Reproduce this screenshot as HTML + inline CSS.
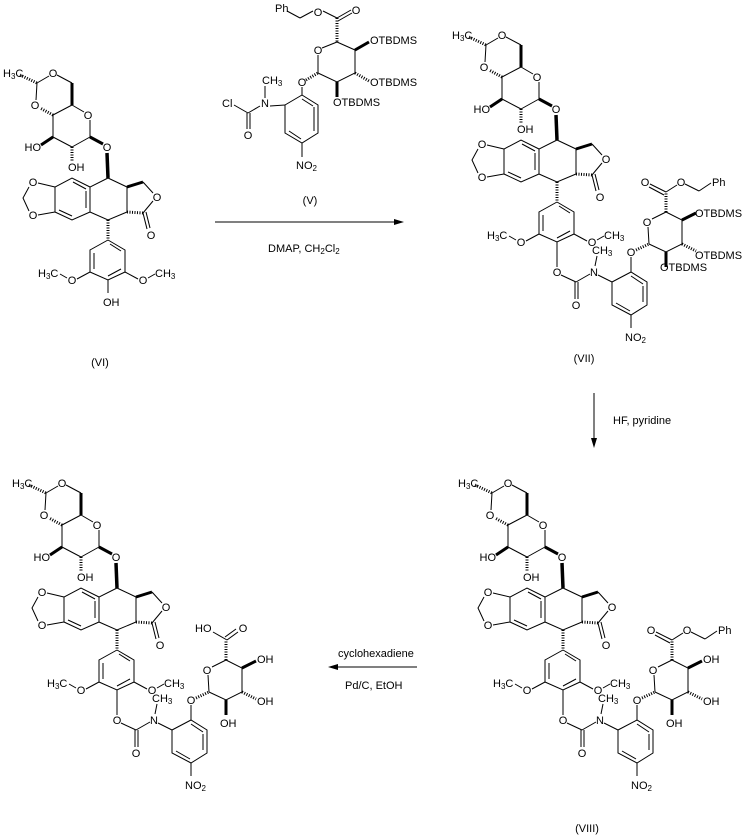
<!DOCTYPE html>
<html><head><meta charset="utf-8"><style>
html,body{margin:0;padding:0;background:#fff;}
svg{display:block;}
text{font-family:"Liberation Sans",Arial,sans-serif;font-size:11px;fill:#000;}
.s{font-size:8px;}
</style></head><body>
<svg width="744" height="835" viewBox="0 0 744 835" xmlns="http://www.w3.org/2000/svg">
<defs>
<g id="core" stroke="#000" stroke-width="1" fill="none">
 <line x1="20" y1="75" x2="37" y2="83" stroke-width="3" stroke-dasharray="1,1.5"/>
 <line x1="37" y1="83" x2="49" y2="76"/>
 <line x1="57" y1="75" x2="72" y2="83"/>
 <line x1="72" y1="83" x2="72" y2="105" stroke-width="3"/>
 <line x1="36" y1="100" x2="37" y2="83"/>
 <line x1="72" y1="105" x2="84" y2="112"/>
 <line x1="53" y1="115" x2="40" y2="108" stroke-width="3" stroke-dasharray="1,1.5"/>
 <line x1="72" y1="105" x2="53" y2="115"/>
 <line x1="53" y1="115" x2="53" y2="137"/>
 <line x1="53" y1="137" x2="72" y2="147"/>
 <line x1="72" y1="147" x2="90" y2="137"/>
 <line x1="90" y1="137" x2="90" y2="120"/>
 <line x1="90" y1="137" x2="103" y2="144" stroke-width="3"/>
 <line x1="53" y1="137" x2="41" y2="145" stroke-width="3"/>
 <line x1="72" y1="147" x2="72" y2="161" stroke-width="3" stroke-dasharray="1,1.5"/>
 <line x1="107" y1="153" x2="108" y2="178" stroke-width="3.5"/>
 <polyline points="108,178 127,187 127,212 108,220 90,212 90,187 108,178"/>
 <polyline points="90,187 72,178 55,187 55,212 72,220 90,212"/>
 <line x1="73" y1="182" x2="86" y2="189"/>
 <line x1="86" y1="191" x2="86" y2="208"/>
 <line x1="59" y1="210" x2="72" y2="216"/>
 <line x1="55" y1="187" x2="38" y2="183"/>
 <line x1="55" y1="212" x2="38" y2="215"/>
 <polyline points="29,187 23,198 29,211"/>
 <line x1="127" y1="187" x2="143" y2="182" stroke-width="3"/>
 <line x1="143" y1="182" x2="153" y2="193"/>
 <line x1="153" y1="201" x2="143" y2="213"/>
 <line x1="127" y1="212" x2="143" y2="213" stroke-width="3" stroke-dasharray="1,1.5"/>
 <line x1="143" y1="213" x2="147" y2="229"/>
 <line x1="146" y1="212" x2="150" y2="228"/>
 <line x1="108" y1="220" x2="108" y2="240" stroke-width="3" stroke-dasharray="1,1.5"/>
 <polyline points="108,240 125,250 125,272 108,280 90,272 90,250 108,240"/>
 <line x1="94" y1="253" x2="94" y2="269"/>
 <line x1="108" y1="276" x2="121" y2="269"/>
 <line x1="110" y1="244" x2="121" y2="251"/>
 <line x1="90" y1="272" x2="77" y2="279"/>
 <line x1="67" y1="278" x2="60" y2="274"/>
 <line x1="125" y1="272" x2="138" y2="279"/>
 <line x1="148" y1="278" x2="155" y2="274"/>
 <line x1="108" y1="280" x2="108" y2="293"/>
</g>
<g id="ext" stroke="#000" stroke-width="1" fill="none">
 <line x1="108" y1="293" x2="108" y2="305"/>
 <line x1="112" y1="313" x2="127" y2="320"/>
 <line x1="126" y1="320" x2="126" y2="337"/>
 <line x1="129" y1="320" x2="129" y2="337"/>
 <line x1="127" y1="320" x2="141" y2="312"/>
 <line x1="146" y1="304" x2="148" y2="294"/>
 <line x1="149" y1="313" x2="163" y2="320"/>
 <polyline points="163,320 182,310 198,320 198,343 182,353 163,343 163,320"/>
 <line x1="182" y1="314" x2="194" y2="322"/>
 <line x1="194" y1="324" x2="194" y2="340"/>
 <line x1="167" y1="341" x2="181" y2="349"/>
 <line x1="182" y1="310" x2="182" y2="295"/>
 <line x1="182" y1="353" x2="182" y2="366"/>
 <line x1="187" y1="288" x2="200" y2="282" stroke-width="3" stroke-dasharray="1,1.5"/>
 <line x1="200" y1="282" x2="199" y2="265"/>
 <line x1="203" y1="257" x2="217" y2="250"/>
 <polyline points="217,250 233,258 233,282 217,290 200,282"/>
 <line x1="233" y1="258" x2="247" y2="251" stroke-width="3"/>
 <line x1="233" y1="282" x2="247" y2="289" stroke-width="3" stroke-dasharray="1,1.5"/>
 <line x1="217" y1="290" x2="217" y2="305" stroke-width="3"/>
 <line x1="217" y1="250" x2="217" y2="231" stroke-width="3" stroke-dasharray="1,1.5"/>
</g>
<g id="ester" stroke="#000" stroke-width="1" fill="none">
 <line x1="217" y1="230" x2="201" y2="222"/>
 <line x1="215" y1="233" x2="200" y2="225"/>
 <line x1="217" y1="230" x2="228" y2="223"/>
 <line x1="236" y1="222" x2="250" y2="229"/>
 <line x1="250" y1="229" x2="262" y2="221"/>
</g>
</defs>

<!-- (VI) -->
<g>
 <use href="#core"/>
 <text x="3" y="77">H<tspan class="s" dy="2">3</tspan><tspan dy="-2">C</tspan></text>
 <text x="53" y="77" text-anchor="middle">O</text>
 <text x="35" y="109" text-anchor="middle">O</text>
 <text x="88" y="119" text-anchor="middle">O</text>
 <text x="41" y="151" text-anchor="end">HO</text>
 <text x="68" y="171">OH</text>
 <text x="107" y="151" text-anchor="middle">O</text>
 <text x="33" y="186" text-anchor="middle">O</text>
 <text x="33" y="219" text-anchor="middle">O</text>
 <text x="157" y="201" text-anchor="middle">O</text>
 <text x="151" y="239" text-anchor="middle">O</text>
 <text x="72" y="284" text-anchor="middle">O</text>
 <text x="38" y="277">H<tspan class="s" dy="2">3</tspan><tspan dy="-2">C</tspan></text>
 <text x="143" y="284" text-anchor="middle">O</text>
 <text x="155" y="277">CH<tspan class="s" dy="2">3</tspan></text>
 <text x="103" y="306">OH</text>
 <text x="100" y="366" text-anchor="middle">(VI)</text>
</g>

<!-- reagent (V) and arrow -->
<g stroke="#000" stroke-width="1" fill="none">
 <line x1="287" y1="11" x2="300" y2="18"/>
 <line x1="300" y1="18" x2="313" y2="11"/>
 <line x1="323" y1="11" x2="337" y2="18"/>
 <line x1="337" y1="18" x2="351" y2="10"/>
 <line x1="338" y1="21" x2="352" y2="13"/>
 <line x1="337" y1="18" x2="337" y2="42" stroke-width="3" stroke-dasharray="1,1.5"/>
 <line x1="337" y1="42" x2="322" y2="48"/>
 <polyline points="337,42 355,50 355,73 337,82 318,73"/>
 <line x1="318" y1="73" x2="318" y2="55"/>
 <line x1="355" y1="50" x2="369" y2="42" stroke-width="3"/>
 <line x1="355" y1="73" x2="369" y2="81" stroke-width="3" stroke-dasharray="1,1.5"/>
 <line x1="337" y1="82" x2="337" y2="97" stroke-width="3"/>
 <line x1="306" y1="80" x2="318" y2="73" stroke-width="3" stroke-dasharray="1,1.5"/>
 <line x1="302" y1="87" x2="302" y2="95"/>
 <polyline points="302,95 318,105 318,133 302,143 285,133 285,105 302,95"/>
 <line x1="314" y1="107" x2="314" y2="131"/>
 <line x1="289" y1="131" x2="301" y2="139"/>
 <line x1="302" y1="99" x2="313" y2="106"/>
 <line x1="285" y1="105" x2="270" y2="106"/>
 <line x1="265" y1="98" x2="265" y2="86"/>
 <line x1="260" y1="106" x2="248" y2="113"/>
 <line x1="248" y1="113" x2="234" y2="105"/>
 <line x1="247" y1="113" x2="247" y2="129"/>
 <line x1="250" y1="113" x2="250" y2="129"/>
 <line x1="302" y1="143" x2="302" y2="157"/>
 <line x1="215" y1="222" x2="400" y2="222"/>
</g>
<polygon points="404,222 394,219 394,225" fill="#000"/>
<text x="275" y="12">Ph</text>
<text x="318" y="16" text-anchor="middle">O</text>
<text x="356" y="14" text-anchor="middle">O</text>
<text x="318" y="54" text-anchor="middle">O</text>
<text x="370" y="44">OTBDMS</text>
<text x="370" y="86">OTBDMS</text>
<text x="333" y="106">OTBDMS</text>
<text x="302" y="86" text-anchor="middle">O</text>
<text x="262" y="84">CH<tspan class="s" dy="2">3</tspan></text>
<text x="265" y="107" text-anchor="middle">N</text>
<text x="222" y="107">Cl</text>
<text x="248" y="139" text-anchor="middle">O</text>
<text x="296" y="169">NO<tspan class="s" dy="2">2</tspan></text>
<text x="310" y="204" text-anchor="middle">(V)</text>
<text x="268" y="252">DMAP, CH<tspan class="s" dy="2">2</tspan><tspan dy="-2">Cl</tspan><tspan class="s" dy="2">2</tspan></text>

<!-- (VII) -->
<g transform="translate(449,-38)">
 <use href="#core"/><use href="#ext"/><use href="#ester"/>
 <text x="3" y="77">H<tspan class="s" dy="2">3</tspan><tspan dy="-2">C</tspan></text>
 <text x="53" y="77" text-anchor="middle">O</text>
 <text x="35" y="109" text-anchor="middle">O</text>
 <text x="88" y="119" text-anchor="middle">O</text>
 <text x="41" y="151" text-anchor="end">HO</text>
 <text x="68" y="171">OH</text>
 <text x="107" y="151" text-anchor="middle">O</text>
 <text x="33" y="186" text-anchor="middle">O</text>
 <text x="33" y="219" text-anchor="middle">O</text>
 <text x="157" y="201" text-anchor="middle">O</text>
 <text x="151" y="239" text-anchor="middle">O</text>
 <text x="72" y="284" text-anchor="middle">O</text>
 <text x="38" y="277">H<tspan class="s" dy="2">3</tspan><tspan dy="-2">C</tspan></text>
 <text x="143" y="284" text-anchor="middle">O</text>
 <text x="155" y="277">CH<tspan class="s" dy="2">3</tspan></text>
 <text x="108" y="314" text-anchor="middle">O</text>
 <text x="127" y="347" text-anchor="middle">O</text>
 <text x="145" y="314" text-anchor="middle">N</text>
 <text x="143" y="292">CH<tspan class="s" dy="2">3</tspan></text>
 <text x="182" y="294" text-anchor="middle">O</text>
 <text x="176" y="379">NO<tspan class="s" dy="2">2</tspan></text>
 <text x="198" y="264" text-anchor="middle">O</text>
 <text x="246" y="255">OTBDMS</text>
 <text x="246" y="297">OTBDMS</text>
 <text x="211" y="309">OTBDMS</text>
 <text x="196" y="224" text-anchor="middle">O</text>
 <text x="232" y="224" text-anchor="middle">O</text>
 <text x="263" y="224">Ph</text>
 <text x="135" y="400" text-anchor="middle">(VII)</text>
</g>

<!-- arrow HF -->
<line x1="594" y1="393" x2="594" y2="442" stroke="#000"/>
<polygon points="594,448 591,438 597,438" fill="#000"/>
<text x="613" y="424">HF, pyridine</text>

<!-- (VIII) -->
<g transform="translate(455,410)">
 <use href="#core"/><use href="#ext"/><use href="#ester"/>
 <text x="3" y="77">H<tspan class="s" dy="2">3</tspan><tspan dy="-2">C</tspan></text>
 <text x="53" y="77" text-anchor="middle">O</text>
 <text x="35" y="109" text-anchor="middle">O</text>
 <text x="88" y="119" text-anchor="middle">O</text>
 <text x="41" y="151" text-anchor="end">HO</text>
 <text x="68" y="171">OH</text>
 <text x="107" y="151" text-anchor="middle">O</text>
 <text x="33" y="186" text-anchor="middle">O</text>
 <text x="33" y="219" text-anchor="middle">O</text>
 <text x="157" y="201" text-anchor="middle">O</text>
 <text x="151" y="239" text-anchor="middle">O</text>
 <text x="72" y="284" text-anchor="middle">O</text>
 <text x="38" y="277">H<tspan class="s" dy="2">3</tspan><tspan dy="-2">C</tspan></text>
 <text x="143" y="284" text-anchor="middle">O</text>
 <text x="155" y="277">CH<tspan class="s" dy="2">3</tspan></text>
 <text x="108" y="314" text-anchor="middle">O</text>
 <text x="127" y="347" text-anchor="middle">O</text>
 <text x="145" y="314" text-anchor="middle">N</text>
 <text x="143" y="292">CH<tspan class="s" dy="2">3</tspan></text>
 <text x="182" y="294" text-anchor="middle">O</text>
 <text x="176" y="379">NO<tspan class="s" dy="2">2</tspan></text>
 <text x="198" y="264" text-anchor="middle">O</text>
 <text x="248" y="253">OH</text>
 <text x="248" y="295">OH</text>
 <text x="211" y="317">OH</text>
 <text x="196" y="224" text-anchor="middle">O</text>
 <text x="232" y="224" text-anchor="middle">O</text>
 <text x="263" y="224">Ph</text>
 <text x="132" y="422" text-anchor="middle">(VIII)</text>
</g>

<!-- arrow cyclohexadiene -->
<line x1="334" y1="667" x2="417" y2="667" stroke="#000"/>
<polygon points="328,667 338,664 338,670" fill="#000"/>
<text x="338" y="657">cyclohexadiene</text>
<text x="345" y="689">Pd/C, EtOH</text>

<!-- (IV) -->
<g transform="translate(9,410)">
 <use href="#core"/><use href="#ext"/>
 <g stroke="#000" stroke-width="1" fill="none">
  <line x1="218" y1="230" x2="229" y2="222"/>
  <line x1="216" y1="227" x2="227" y2="219"/>
  <line x1="218" y1="230" x2="204" y2="222"/>
 </g>
 <text x="3" y="77">H<tspan class="s" dy="2">3</tspan><tspan dy="-2">C</tspan></text>
 <text x="53" y="77" text-anchor="middle">O</text>
 <text x="35" y="109" text-anchor="middle">O</text>
 <text x="88" y="119" text-anchor="middle">O</text>
 <text x="41" y="151" text-anchor="end">HO</text>
 <text x="68" y="171">OH</text>
 <text x="107" y="151" text-anchor="middle">O</text>
 <text x="33" y="186" text-anchor="middle">O</text>
 <text x="33" y="219" text-anchor="middle">O</text>
 <text x="157" y="201" text-anchor="middle">O</text>
 <text x="151" y="239" text-anchor="middle">O</text>
 <text x="72" y="284" text-anchor="middle">O</text>
 <text x="38" y="277">H<tspan class="s" dy="2">3</tspan><tspan dy="-2">C</tspan></text>
 <text x="143" y="284" text-anchor="middle">O</text>
 <text x="155" y="277">CH<tspan class="s" dy="2">3</tspan></text>
 <text x="108" y="314" text-anchor="middle">O</text>
 <text x="127" y="347" text-anchor="middle">O</text>
 <text x="145" y="314" text-anchor="middle">N</text>
 <text x="143" y="292">CH<tspan class="s" dy="2">3</tspan></text>
 <text x="182" y="294" text-anchor="middle">O</text>
 <text x="176" y="379">NO<tspan class="s" dy="2">2</tspan></text>
 <text x="198" y="264" text-anchor="middle">O</text>
 <text x="248" y="253">OH</text>
 <text x="248" y="295">OH</text>
 <text x="211" y="317">OH</text>
 <text x="186" y="222">HO</text>
 <text x="234" y="222" text-anchor="middle">O</text>
</g>
</svg>
</body></html>
